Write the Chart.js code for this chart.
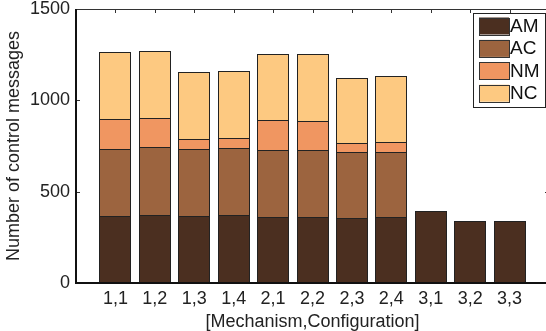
<!DOCTYPE html>
<html>
<head>
<meta charset="utf-8">
<script src="https://cdn.jsdelivr.net/npm/chart.js@4.4.0/dist/chart.umd.min.js"></script>
<style>
  html, body { margin: 0; padding: 0; background: #fff; overflow: hidden; }
  canvas { display: block; }
</style>
</head>
<body>
<canvas id="chart" width="550" height="331"></canvas>
<script>
// categories and stacked segment heights
const categories = ['1,1','1,2','1,3','1,4','2,1','2,2','2,3','2,4','3,1','3,2','3,3'];
const amValues = [367, 372, 367, 370, 363, 361, 357, 359, 396, 338, 338];
const acValues = [368, 371, 368, 367, 365, 365, 358, 358];
const nmValues = [161, 158, 51, 55, 163, 161, 51, 53];
const ncValues = [367, 371, 369, 367, 364, 365, 358, 361];
const yTicks = [0, 500, 1000, 1500];

const seriesNames = ['AM', 'AC', 'NM', 'NC'];
const seriesColors = ['#4b2f20', '#9c643f', '#f09661', '#fdc981'];
const FONT = "'Liberation Sans', Arial, sans-serif";

function toPoints(values) {
  return values.map((v, i) => ({ x: i + 1, y: v }));
}

// snap bar edges to whole pixels so stacked segments don't leave pale seams
const snapBars = {
  id: 'snapBars',
  afterDatasetsUpdate(chart) {
    chart.data.datasets.forEach((ds, i) => {
      chart.getDatasetMeta(i).data.forEach(el => {
        el.x = Math.round(el.x);
        el.width = Math.round(el.width / 2) * 2;
        el.y = Math.round(el.y);
        el.base = Math.round(el.base);
      });
    });
  }
};

// draws the matlab-like box with inward ticks and the boxed legend
const frameAndLegend = {
  id: 'frameAndLegend',
  afterDatasetsDraw(chart) {
    const { ctx, chartArea: a, scales: { x, y } } = chart;
    ctx.save();

    ctx.strokeStyle = '#333';
    ctx.lineWidth = 1;
    ctx.beginPath();
    ctx.moveTo(a.left, a.top + 0.5); ctx.lineTo(a.right, a.top + 0.5);
    ctx.moveTo(a.right - 0.5, a.top); ctx.lineTo(a.right - 0.5, a.bottom);
    categories.forEach((c, i) => {
      const px = Math.round(x.getPixelForValue(i + 1)) + 0.5;
      ctx.moveTo(px, a.top); ctx.lineTo(px, a.top + 4);
    });
    yTicks.forEach(v => {
      const py = Math.round(y.getPixelForValue(v)) + 0.5;
      ctx.moveTo(a.left, py); ctx.lineTo(a.left + 4, py);
      ctx.moveTo(a.right, py); ctx.lineTo(a.right - 4, py);
    });
    ctx.stroke();

    ctx.strokeStyle = '#111';
    ctx.lineWidth = 2;
    ctx.beginPath();
    ctx.moveTo(a.left, a.top); ctx.lineTo(a.left, a.bottom);
    ctx.lineTo(a.right, a.bottom);
    ctx.stroke();

    // legend
    const boxW = 72, boxH = 94;
    const bx = a.right - 4 - boxW, by = a.top + 4;
    ctx.fillStyle = '#fff';
    ctx.fillRect(bx, by, boxW, boxH);
    ctx.strokeStyle = '#222';
    ctx.lineWidth = 1;
    ctx.strokeRect(bx + 0.5, by + 0.5, boxW, boxH);
    ctx.font = '19px ' + FONT;
    ctx.textBaseline = 'middle';
    chart.data.datasets.forEach((ds, i) => {
      const sy = by + 4.5 + i * 22.4;
      ctx.fillStyle = ds.backgroundColor;
      ctx.fillRect(bx + 6, sy, 30, 17);
      ctx.strokeStyle = '#333';
      ctx.strokeRect(bx + 6.5, Math.round(sy) + 0.5, 30, 17);
      ctx.fillStyle = '#111';
      ctx.fillText(ds.label, bx + 37, sy + 9);
    });
    ctx.restore();
  }
};

const allSeries = [amValues, acValues, nmValues, ncValues];

new Chart(document.getElementById('chart'), {
  type: 'bar',
  data: {
    datasets: allSeries.map((vals, i) => ({
      label: seriesNames[i],
      data: toPoints(vals),
      backgroundColor: seriesColors[i],
      borderColor: '#222',
      borderWidth: 1,
      barPercentage: 0.81,
      categoryPercentage: 1
    }))
  },
  options: {
    responsive: false,
    animation: false,
    layout: { padding: { top: 9, right: 1, left: 0, bottom: 0 } },
    plugins: {
      legend: { display: false },
      tooltip: { enabled: false }
    },
    scales: {
      x: {
        type: 'linear',
        stacked: true,
        offset: false,
        min: 0,
        max: 12,
        grid: { display: false, drawTicks: false },
        border: { display: false },
        afterFit: s => { s.height = 48; s.paddingLeft = 0; s.paddingRight = 0; },
        ticks: {
          stepSize: 1,
          autoSkip: false,
          maxRotation: 0,
          padding: 5,
          color: '#222',
          font: { family: FONT, size: 18 },
          callback: v => categories[v - 1] || ''
        },
        title: {
          display: true,
          text: '[Mechanism,Configuration]',
          color: '#222',
          font: { family: FONT, size: 18, lineHeight: 1 },
          padding: { top: 0, bottom: 0 }
        }
      },
      y: {
        stacked: true,
        min: 0,
        max: 1500,
        grid: { display: false, drawTicks: false },
        border: { display: false },
        afterFit: s => { s.width = 76; s.paddingTop = 0; s.paddingBottom = 0; },
        afterBuildTicks: s => { s.ticks = yTicks.map(v => ({ value: v })); },
        ticks: {
          padding: 6,
          color: '#222',
          font: { family: FONT, size: 18 },
          callback: v => String(v)
        },
        title: {
          display: true,
          text: 'Number of control messages',
          color: '#222',
          font: { family: FONT, size: 18 },
          padding: { top: 3, bottom: 4 }
        }
      }
    }
  },
  plugins: [snapBars, frameAndLegend]
});
</script>
</body>
</html>
